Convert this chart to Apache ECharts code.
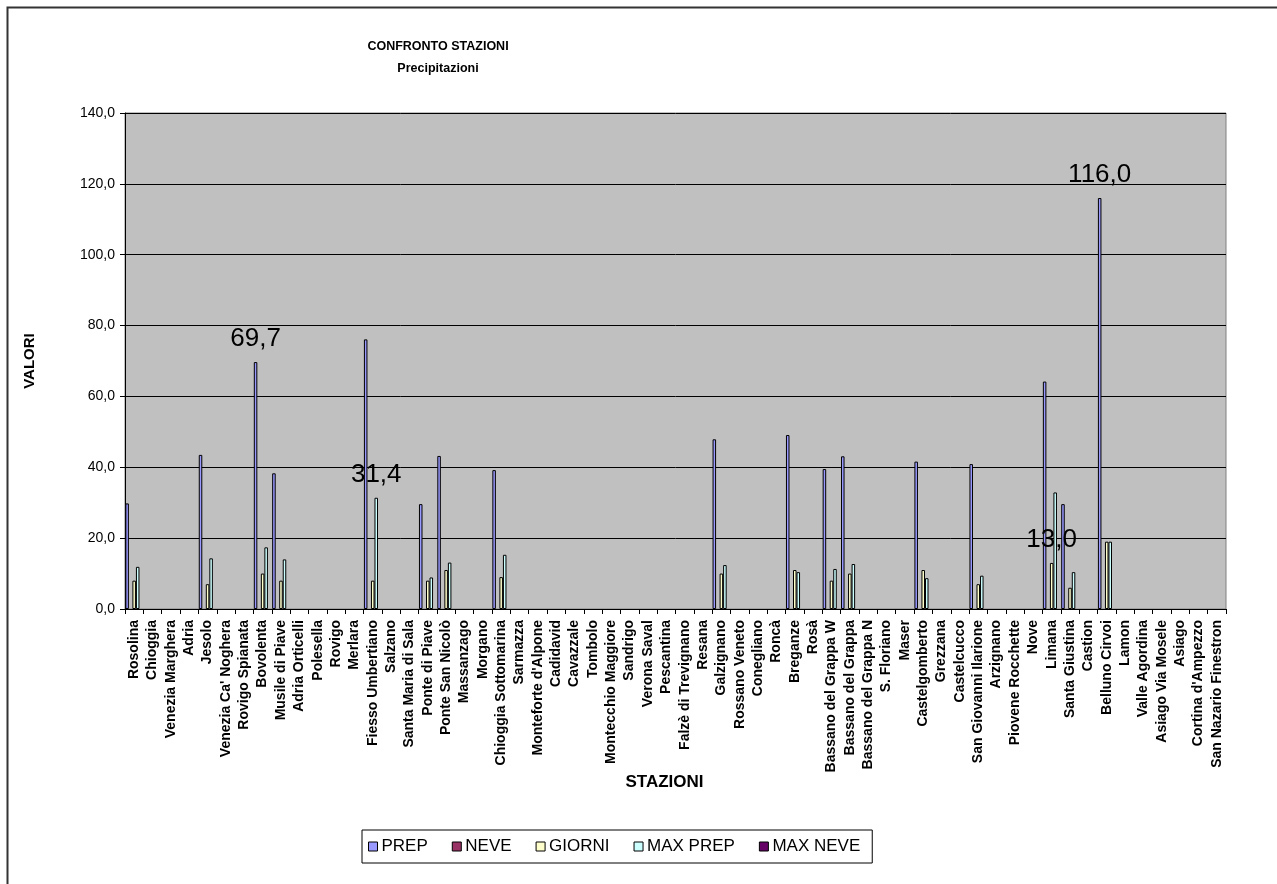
<!DOCTYPE html>
<html>
<head>
<meta charset="utf-8">
<script src="https://cdn.jsdelivr.net/npm/echarts@6/dist/echarts.min.js"></script>
<style>
  html, body { margin: 0; padding: 0; background: #ffffff; }
  #chart { width: 1277px; height: 884px; }
</style>
</head>
<body>
<div id="chart"></div>
<script>
// Stations (x axis)
const stations = [
  'Rosolina', 'Chioggia', 'Venezia Marghera', 'Adria', 'Jesolo',
  "Venezia Ca' Noghera", 'Rovigo Spianata', 'Bovolenta', 'Musile di Piave', 'Adria Orticelli',
  'Polesella', 'Rovigo', 'Merlara', 'Fiesso Umbertiano', 'Salzano',
  'Santa Maria di Sala', 'Ponte di Piave', 'Ponte San Nicolò', 'Massanzago', 'Morgano',
  'Chioggia Sottomarina', 'Sarmazza', "Monteforte d'Alpone", 'Cadidavid', 'Cavazzale',
  'Tombolo', 'Montecchio Maggiore', 'Sandrigo', 'Verona Saval', 'Pescantina',
  'Falzè di Trevignano', 'Resana', 'Galzignano', 'Rossano Veneto', 'Conegliano',
  'Roncà', 'Breganze', 'Rosà', 'Bassano del Grappa W', 'Bassano del Grappa',
  'Bassano del Grappa N', 'S. Floriano', 'Maser', 'Castelgomberto', 'Grezzana',
  'Castelcucco', 'San Giovanni Ilarione', 'Arzignano', 'Piovene Rocchette', 'Nove',
  'Limana', 'Santa Giustina', 'Castion', 'Belluno Cirvoi', 'Lamon',
  'Valle Agordina', 'Asiago Via Mosele', 'Asiago', "Cortina d'Ampezzo", 'San Nazario Finestron'
];

// Series values, one per station (null = no data)
const prep = [
  29.8, null, null, null, 43.5, null, null, 69.7, 38.3, null,
  null, null, null, 76.1, null, null, 29.6, 43.2, null, null,
  39.2, null, null, null, null, null, null, null, null, null,
  null, null, 47.9, null, null, null, 49.1, null, 39.5, 43.1,
  null, null, null, 41.6, null, null, 40.9, null, null, null,
  64.2, 29.6, null, 116.0, null, null, null, null, null, null
];
const neve = [
  null, null, null, null, null, null, null, null, null, null,
  null, null, null, null, null, null, null, null, null, null,
  null, null, null, null, null, null, null, null, null, null,
  null, null, null, null, null, null, null, null, null, null,
  null, null, null, null, null, null, null, null, null, null,
  null, null, null, null, null, null, null, null, null, null
];
const giorni = [
  8, null, null, null, 7, null, null, 10, 8, null,
  null, null, null, 8, null, null, 8, 11, null, null,
  9, null, null, null, null, null, null, null, null, null,
  null, null, 10, null, null, null, 11, null, 8, 10,
  null, null, null, 11, null, null, 7, null, null, null,
  13, 6, null, 19, null, null, null, null, null, null
];
const maxPrep = [
  11.9, null, null, null, 14.3, null, null, 17.4, 14.0, null,
  null, null, null, 31.4, null, null, 8.9, 13.1, null, null,
  15.3, null, null, null, null, null, null, null, null, null,
  null, null, 12.4, null, null, null, 10.4, null, 11.3, 12.7,
  null, null, null, 8.7, null, null, 9.4, null, null, null,
  32.9, 10.4, null, 19.0, null, null, null, null, null, null
];
const maxNeve = neve.slice();

// Y axis ticks
const yMin = 0, yMax = 140, yStep = 20;

// Values printed above their bar
const labelled = [
  { series: 'PREP', station: 'Bovolenta' },
  { series: 'MAX PREP', station: 'Fiesso Umbertiano' },
  { series: 'GIORNI', station: 'Limana' },
  { series: 'PREP', station: 'Belluno Cirvoi' }
];

const seriesDefs = [
  { name: 'PREP', values: prep, color: '#9999FF' },
  { name: 'NEVE', values: neve, color: '#993366' },
  { name: 'GIORNI', values: giorni, color: '#FFFFCC' },
  { name: 'MAX PREP', values: maxPrep, color: '#CCFFFF' },
  { name: 'MAX NEVE', values: maxNeve, color: '#660066' }
];

const fmt = v => Number(v).toFixed(1).replace('.', ',');

const series = seriesDefs.map(def => ({
  name: def.name,
  type: 'bar',
  barGap: '0%',
  barCategoryGap: '4%',
  itemStyle: { color: def.color, borderColor: '#000000', borderWidth: 1 },
  emphasis: { disabled: true },
  data: def.values.map((v, i) => {
    const show = labelled.some(l => l.series === def.name && l.station === stations[i]);
    if (!show || v == null) return v;
    return {
      value: v,
      label: {
        show: true, position: 'top', distance: 10,
        formatter: p => fmt(p.value),
        fontFamily: 'Arial, "Liberation Sans", sans-serif',
        fontSize: 26, color: '#000000'
      }
    };
  })
}));

const chart = echarts.init(document.getElementById('chart'), null, { renderer: 'canvas' });
chart.setOption({
  animation: false,
  backgroundColor: '#ffffff',
  textStyle: { fontFamily: 'Arial, "Liberation Sans", sans-serif' },
  color: seriesDefs.map(d => d.color),
  title: {
    text: 'CONFRONTO STAZIONI\nPrecipitazioni',
    left: 433, top: 31, textAlign: 'center',
    textStyle: { fontSize: 12.5, fontWeight: 'bold', color: '#000000', lineHeight: 22 }
  },
  graphic: [{
    type: 'rect', left: 5, top: 5, silent: true,
    shape: { width: 1400, height: 1000 },
    style: { fill: 'none', stroke: '#333333', lineWidth: 2 }
  }],
  legend: {
    left: 362, top: 830,
    padding: [8, 12, 8, 6],
    itemGap: 24,
    itemWidth: 9, itemHeight: 9,
    icon: 'rect',
    borderColor: '#000000', borderWidth: 1,
    textStyle: { fontSize: 17, color: '#000000', padding: [0, 0, 0, -1] },
    data: seriesDefs.map(d => ({ name: d.name, itemStyle: { borderColor: '#000000', borderWidth: 1 } }))
  },
  grid: {
    left: 125, right: 51, top: 113, bottom: 275,
    show: true, backgroundColor: '#C0C0C0', borderColor: '#808080', borderWidth: 1
  },
  xAxis: {
    type: 'category',
    data: stations,
    name: 'STAZIONI',
    nameLocation: 'middle',
    nameGap: 165,
    nameMoveOverlap: false,
    nameTextStyle: { fontSize: 17, fontWeight: 'bold', color: '#000000', padding: [0, 22, 0, 0] },
    axisLine: { lineStyle: { color: '#000000', width: 1 } },
    axisTick: { show: true, length: 5, lineStyle: { color: '#000000' } },
    axisLabel: {
      interval: 0, rotate: 90, margin: 11,
      fontSize: 14, fontWeight: 'bold', color: '#000000'
    },
    splitLine: { show: false }
  },
  yAxis: {
    type: 'value',
    min: yMin, max: yMax, interval: yStep,
    name: 'VALORI',
    nameLocation: 'middle',
    nameGap: 88,
    nameMoveOverlap: false,
    nameTextStyle: { fontSize: 15, fontWeight: 'bold', color: '#000000' },
    axisLine: { show: true, lineStyle: { color: '#000000', width: 1 } },
    axisTick: { show: true, length: 5, lineStyle: { color: '#000000' } },
    axisLabel: { fontSize: 14, color: '#000000', margin: 10, formatter: v => fmt(v) },
    splitLine: { show: true, lineStyle: { color: '#000000', width: 1 } }
  },
  series: series
});
</script>
</body>
</html>
